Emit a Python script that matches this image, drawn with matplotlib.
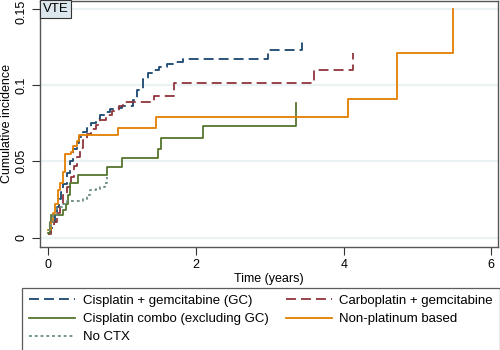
import matplotlib
matplotlib.use("Agg")
import matplotlib.pyplot as plt
from matplotlib.transforms import ScaledTranslation

plt.rcParams["font.family"] = ["Liberation Sans", "DejaVu Sans"]

# curves: time (years) and cumulative incidence, post-step
gc_t = [0, 0.03, 0.06, 0.09, 0.11, 0.14, 0.17, 0.2, 0.25, 0.29, 0.33, 0.38, 0.42, 0.47,
        0.52, 0.58, 0.64, 0.7, 0.77, 0.83, 0.9, 1.0, 1.14, 1.2, 1.28, 1.35, 1.42, 1.5,
        1.6, 1.7, 1.82, 2.97, 3.43]
gc_v = [0.003, 0.006, 0.01, 0.015, 0.02, 0.025, 0.03, 0.035, 0.042, 0.05, 0.058, 0.062,
        0.066, 0.069, 0.072, 0.075, 0.078, 0.080, 0.082, 0.084, 0.085, 0.086, 0.09, 0.097,
        0.104, 0.108, 0.11, 0.112, 0.114, 0.115, 0.117, 0.123, 0.129]

carbo_t = [0, 0.04, 0.07, 0.11, 0.15, 0.2, 0.25, 0.3, 0.34, 0.38, 0.43, 0.47, 0.52, 0.58,
           0.64, 0.7, 0.78, 0.86, 0.95, 1.01, 1.43, 1.70, 3.6, 4.13]
carbo_v = [0.002, 0.006, 0.01, 0.016, 0.022, 0.028, 0.033, 0.04, 0.047, 0.053, 0.059,
           0.064, 0.068, 0.071, 0.074, 0.077, 0.08, 0.083, 0.086, 0.089, 0.093, 0.101,
           0.110, 0.121]

combo_t = [0, 0.02, 0.04, 0.2, 0.24, 0.26, 0.29, 0.4, 0.79, 1.0, 1.48, 1.53, 2.09, 3.36]
combo_v = [0.003, 0.01, 0.015, 0.018, 0.022, 0.028, 0.036, 0.041, 0.046, 0.052, 0.058,
           0.065, 0.073, 0.088]

nonplat_t = [0, 0.03, 0.06, 0.09, 0.13, 0.16, 0.2, 0.22, 0.3, 0.33, 0.38, 0.42, 0.94,
             1.46, 4.06, 4.72, 5.48]
nonplat_v = [0.005, 0.01, 0.016, 0.022, 0.031, 0.036, 0.043, 0.055, 0.056, 0.06, 0.063,
             0.067, 0.072, 0.079, 0.091, 0.121, 0.150]

noctx_t = [0, 0.03, 0.06, 0.11, 0.2, 0.25, 0.47, 0.52, 0.56, 0.64, 0.7, 0.76, 0.79]
noctx_v = [0.005, 0.01, 0.015, 0.02, 0.022, 0.024, 0.025, 0.028, 0.031, 0.032, 0.033,
           0.036, 0.04]

x_ticks = [0, 2, 4, 6]
y_ticks = [0, 0.05, 0.1, 0.15]
y_tick_labels = ["0", "0.05", "0.1", "0.15"]

series = [
    # label, t, v, color, dashes
    ("Cisplatin + gemcitabine (GC)", gc_t, gc_v, "#1a476f", (5.5, 2.8)),
    ("Carboplatin + gemcitabine", carbo_t, carbo_v, "#90353b", (5.5, 2.8)),
    ("Cisplatin combo (excluding GC)", combo_t, combo_v, "#55752f", None),
    ("Non-platinum based", nonplat_t, nonplat_v, "#e37e00", None),
    ("No CTX", noctx_t, noctx_v, "#6e8e84", (1.6, 1.6)),
]

fig = plt.figure(figsize=(5, 3.5), dpi=100)
ax = fig.add_axes([40 / 500, 1 - 246.7 / 350, 458 / 500, 245.7 / 350])

for y in y_ticks:
    ax.axhline(y, color="#eaf2f3", lw=1.6, zorder=0)

handles = {}
for label, t, v, color, dashes in series:
    line, = ax.step(t, v, where="post", color=color, lw=1.3, label=label)
    if dashes is not None:
        line.set_dashes(dashes)
    handles[label] = line

ax.set_xlim(-0.115, 6.09)
ax.set_ylim(-0.006, 0.155)
ax.set_xticks(x_ticks)
ax.set_xticklabels([str(x) for x in x_ticks], fontsize=9)
ax.set_yticks(y_ticks)
ax.set_yticklabels(y_tick_labels, fontsize=9, rotation=90, va="center")
ax.tick_params(direction="out", length=6, width=0.8, color="#333333", pad=3)
for s in ax.spines.values():
    s.set_color("#555555")
    s.set_linewidth(1.0)

# top label sits against the figure edge: nudge it down a little
top_lbl = ax.yaxis.get_major_ticks()[-1].label1
top_lbl.set_transform(top_lbl.get_transform() + ScaledTranslation(0, -2.5 / 72, fig.dpi_scale_trans))

ax.set_xlabel("Time (years)", fontsize=9, labelpad=1)
ax.set_ylabel("Cumulative incidence", fontsize=9, labelpad=2)

ax.text(0.006, 0.993, "VTE", transform=ax.transAxes, fontsize=9.5, ha="left", va="top",
        bbox=dict(boxstyle="square,pad=0.22", facecolor="#dce6ed", edgecolor="#333333", lw=0.8))

order = ["Cisplatin + gemcitabine (GC)", "Cisplatin combo (excluding GC)", "No CTX",
         "Carboplatin + gemcitabine", "Non-platinum based"]
leg = fig.legend([handles[k] for k in order], order, ncol=2, loc="upper left",
                 bbox_to_anchor=(22 / 500, 1 - 287.5 / 350),
                 fontsize=9.5, frameon=True, fancybox=False, edgecolor="#333333",
                 handlelength=3.5, handletextpad=0.55, labelspacing=0.45,
                 borderpad=0.55, borderaxespad=0, columnspacing=1.3)
leg.get_frame().set_linewidth(0.9)

fig.savefig("out.png", dpi=100)
